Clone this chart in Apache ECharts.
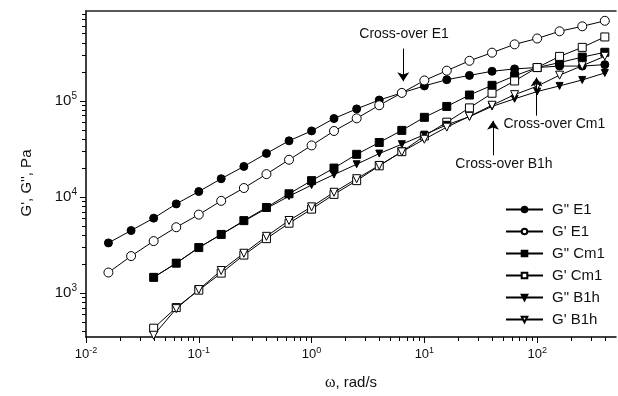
<!DOCTYPE html>
<html>
<head>
<meta charset="utf-8">
<script src="https://cdn.jsdelivr.net/npm/echarts@6/dist/echarts.min.js"></script>
<style>
  html, body { margin: 0; padding: 0; background: #fff; }
  #chart { width: 618px; height: 396px; }
</style>
</head>
<body>
<div id="chart"></div>
<script>
// Angular frequency (rad/s) for sample E1 and for samples Cm1 / B1h
const omegaE1 = [0.0158, 0.0251, 0.0398, 0.0631, 0.1, 0.158, 0.251, 0.398, 0.631, 1, 1.58, 2.51, 3.98, 6.31, 10, 15.8, 25.1, 39.8, 63.1, 100, 158, 251, 398];
const omegaCmB = [0.0398, 0.0631, 0.1, 0.158, 0.251, 0.398, 0.631, 1, 1.58, 2.51, 3.98, 6.31, 10, 15.8, 25.1, 39.8, 63.1, 100, 158, 251, 398];

// Loss modulus G'' and storage modulus G' (Pa)
const lossE1 = [3330, 4480, 6030, 8480, 11400, 15500, 20800, 28400, 38400, 48700, 65500, 82500, 102000, 121000, 143000, 166000, 184000, 203000, 215000, 222000, 230000, 230000, 238000];
const storageE1 = [1640, 2430, 3480, 4850, 6560, 9120, 12400, 17300, 24400, 34400, 48600, 65800, 90000, 121000, 163000, 206000, 261000, 317000, 387000, 445000, 529000, 596000, 680000];
const lossCm1 = [1460, 2050, 2980, 4080, 5680, 7780, 10800, 14800, 20000, 27800, 36900, 49300, 67400, 87500, 115000, 145000, 182000, 222000, 250000, 285000, 320000];
const storageCm1 = [432, 708, 1075, 1616, 2490, 3690, 5340, 7480, 10650, 14800, 21100, 29600, 43100, 60000, 84500, 120000, 161000, 222000, 290000, 360000, 462000];
const lossB1h = [1460, 2050, 2980, 4080, 5600, 7600, 10200, 13300, 17100, 21900, 28300, 35400, 44500, 56300, 68500, 87500, 105000, 125000, 143000, 165000, 195000];
const storageB1h = [365, 690, 1090, 1720, 2600, 3900, 5700, 7900, 11200, 15500, 21300, 29500, 39900, 53300, 69000, 90000, 116000, 142000, 185000, 232000, 291000];

const seriesNames = ['G" E1', "G' E1", 'G" Cm1', "G' Cm1", 'G" B1h', "G' B1h"];

// Axis ranges and decade ticks
const xRange = [0.01, 500];
const yRange = [350, 860000];
const xDecades = [0.01, 0.1, 1, 10, 100];
const yDecades = [1000, 10000, 100000];

// Cross-over annotations: arrow start/end and label anchor, in data units
const crossLabels = ['Cross-over E1', 'Cross-over B1h', 'Cross-over Cm1'];
const arrowFrom = [[6.5, 350000], [40.6, 27200], [98.7, 70200]];
const arrowTo = [[6.5, 160000], [40.6, 62000], [98.7, 175000]];
const labelAt = [[6.6, 500000], [50.8, 22000], [142, 56600]];

function minorTicks(range) {
  const out = [];
  const k0 = Math.floor(Math.log10(range[0]));
  const k1 = Math.ceil(Math.log10(range[1]));
  for (let k = k0; k <= k1; k++) {
    for (let m = 2; m <= 9; m++) {
      const v = m * Math.pow(10, k);
      if (v > range[0] && v < range[1]) out.push(v);
    }
  }
  return out;
}
const lg = v => Math.log10(v);

function powLabel(v) {
  const e = Math.round(Math.log10(v));
  return '{b|10}{s|' + e + '}';
}

const FONT = 'Liberation Sans, Arial, Helvetica, sans-serif';
const pairs = (xs, ys) => xs.map((x, i) => [x, ys[i]]);

const lineBase = {
  type: 'line',
  xAxisIndex: 0,
  yAxisIndex: 0,
  showAllSymbol: true,
  animation: false,
  lineStyle: { color: '#000', width: 1 },
  emphasis: { disabled: true },
  z: 3
};

const filled = { color: '#000', borderColor: '#000', borderWidth: 1 };
const hollow = { color: '#fff', borderColor: '#000', borderWidth: 1 };

const series = [
  Object.assign({}, lineBase, {
    name: seriesNames[0], data: pairs(omegaE1, lossE1),
    symbol: 'circle', symbolSize: 8, itemStyle: filled,
    markLine: {
      silent: true, animation: false,
      symbol: ['none', 'arrow'], symbolSize: 9,
      lineStyle: { color: '#000', width: 1, type: 'solid' },
      label: { show: false },
      emphasis: { disabled: true },
      data: arrowFrom.map((p, i) => [{ coord: p }, { coord: arrowTo[i] }])
    },
    markPoint: {
      silent: true, animation: false,
      symbol: 'rect', symbolSize: 0,
      label: {
        show: true, position: 'inside', color: '#111',
        fontFamily: FONT, fontSize: 14, formatter: p => p.name
      },
      data: labelAt.map((p, i) => ({ name: crossLabels[i], coord: p }))
    }
  }),
  Object.assign({}, lineBase, {
    name: seriesNames[1], data: pairs(omegaE1, storageE1),
    symbol: 'circle', symbolSize: 9, itemStyle: hollow
  }),
  Object.assign({}, lineBase, {
    name: seriesNames[2], data: pairs(omegaCmB, lossCm1),
    symbol: 'rect', symbolSize: 8, itemStyle: filled
  }),
  Object.assign({}, lineBase, {
    name: seriesNames[3], data: pairs(omegaCmB, storageCm1),
    symbol: 'rect', symbolSize: 8, itemStyle: hollow
  }),
  Object.assign({}, lineBase, {
    name: seriesNames[4], data: pairs(omegaCmB, lossB1h),
    symbol: 'triangle', symbolRotate: 180, symbolSize: 7, itemStyle: filled
  }),
  Object.assign({}, lineBase, {
    name: seriesNames[5], data: pairs(omegaCmB, storageB1h),
    symbol: 'triangle', symbolRotate: 180, symbolSize: 8, itemStyle: hollow
  })
];

// Tick-only axes laid out in decades (log10 units) over the same extent
function tickAxis(range, values, len, pos) {
  return {
    type: 'value', min: lg(range[0]), max: lg(range[1]), position: pos,
    axisLine: { show: false, onZero: false },
    axisTick: { show: true, inside: false, length: len, customValues: values.map(lg), lineStyle: { color: '#000', width: 1 } },
    axisLabel: { show: false }, splitLine: { show: false }
  };
}

const option = {
  backgroundColor: '#fff',
  animation: false,
  grid: { left: 86, right: 2, top: 11, bottom: 55, containLabel: false },
  legend: {
    orient: 'vertical',
    left: 500, top: 197,
    itemWidth: 37, itemHeight: 7, itemGap: 7,
    selectedMode: false,
    textStyle: { fontFamily: FONT, fontSize: 15, color: '#111', padding: [0, 0, 0, 4] },
    data: seriesNames
  },
  xAxis: [
    {
      type: 'log', logBase: 10, min: xRange[0], max: xRange[1], position: 'bottom',
      name: '{w|ω}, rad/s', nameLocation: 'middle', nameGap: 38,
      nameTextStyle: {
        fontFamily: FONT, fontSize: 15, color: '#111',
        rich: { w: { fontFamily: 'Liberation Serif, serif', fontSize: 16, color: '#111' } }
      },
      axisLine: { show: true, onZero: false, lineStyle: { color: '#000', width: 1.5 } },
      axisTick: { show: false },
      axisLabel: { show: true, margin: 9, customValues: xDecades, formatter: powLabel, rich: {
        b: { fontSize: 13, fontFamily: FONT, color: '#111' },
        s: { fontSize: 9, fontFamily: FONT, color: '#111', padding: [0, 0, 8, 0] }
      } },
      splitLine: { show: false }, minorTick: { show: false }
    },
    tickAxis(xRange, xDecades, 6, 'bottom'),
    tickAxis(xRange, minorTicks(xRange), 4, 'bottom'),
    {
      type: 'log', logBase: 10, min: xRange[0], max: xRange[1], position: 'top',
      axisLine: { show: true, onZero: false, lineStyle: { color: '#222', width: 1.5 } },
      axisTick: { show: false }, axisLabel: { show: false }, splitLine: { show: false }
    }
  ],
  yAxis: [
    {
      type: 'log', logBase: 10, min: yRange[0], max: yRange[1], position: 'left',
      name: "G', G'', Pa", nameLocation: 'middle', nameGap: 52,
      nameTextStyle: { fontFamily: FONT, fontSize: 15, color: '#111', padding: [0, 18, 0, 0] },
      axisLine: { show: true, onZero: false, lineStyle: { color: '#000', width: 1.5 } },
      axisTick: { show: false },
      axisLabel: { show: true, margin: 9, customValues: yDecades, formatter: powLabel, rich: {
        b: { fontSize: 15, fontFamily: FONT, color: '#111' },
        s: { fontSize: 10, fontFamily: FONT, color: '#111', padding: [0, 0, 9, 0] }
      } },
      splitLine: { show: false }, minorTick: { show: false }
    },
    tickAxis(yRange, yDecades, 6, 'left'),
    tickAxis(yRange, minorTicks(yRange), 4, 'left')
  ],
  series: series
};

const chart = echarts.init(document.getElementById('chart'), null, { renderer: 'canvas' });
chart.setOption(option);
</script>
</body>
</html>
